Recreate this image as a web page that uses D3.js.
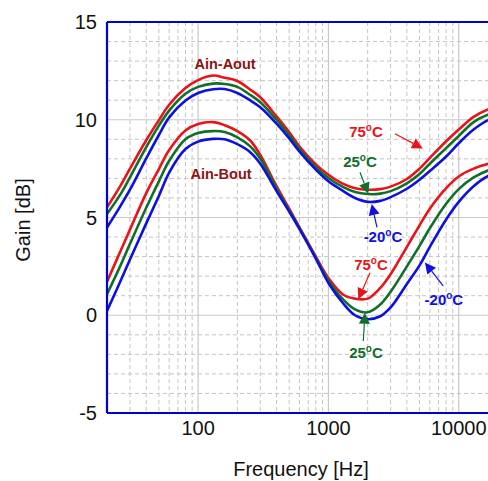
<!DOCTYPE html>
<html>
<head>
<meta charset="utf-8">
<script src="https://cdn.jsdelivr.net/npm/d3@7"></script>
<style>
  html, body { margin: 0; padding: 0; background: #fff; }
  svg { display: block; font-family: Arial, "Liberation Sans", sans-serif; }
</style>
</head>
<body>
<svg id="chart" width="488" height="481"></svg>
<script>
// ---------------- DATA ----------------
const freqs = [20, 25, 30, 40, 50, 60, 80, 100, 130, 160, 200, 250, 300, 400, 500, 600, 800,
               1000, 1300, 1600, 2000, 2500, 3000, 4000, 5000, 6000, 8000, 10000, 13000, 17000, 20000];

// Ain-Aout
const aoutHot  = [5.52, 6.55, 7.50, 8.95, 9.98, 10.77, 11.62, 12.03, 12.26, 12.15, 11.98, 11.55, 11.15, 10.17, 9.36, 8.63, 7.72,
                  7.19, 6.72, 6.50, 6.42, 6.45, 6.58, 6.97, 7.50, 8.05, 8.90, 9.50, 10.15, 10.55, 10.70];
const aoutRoom = [5.18, 6.12, 7.05, 8.60, 9.70, 10.47, 11.33, 11.68, 11.85, 11.83, 11.68, 11.28, 10.90, 10.00, 9.22, 8.50, 7.58,
                  7.02, 6.55, 6.30, 6.20, 6.22, 6.35, 6.75, 7.22, 7.75, 8.55, 9.17, 9.88, 10.28, 10.42];
const aoutCold = [4.49, 5.52, 6.42, 8.02, 9.22, 10.12, 10.98, 11.37, 11.56, 11.57, 11.37, 11.00, 10.64, 9.80, 9.05, 8.37, 7.45,
                  6.85, 6.35, 6.00, 5.80, 5.85, 6.04, 6.47, 6.93, 7.38, 8.12, 8.80, 9.50, 10.00, 10.15];
// Ain-Bout
const boutHot  = [1.72, 3.18, 4.38, 6.25, 7.48, 8.45, 9.45, 9.78, 9.88, 9.72, 9.42, 8.95, 8.20, 6.60, 5.45, 4.50, 3.00,
                  1.90, 1.05, 0.85, 0.85, 1.40, 2.10, 3.50, 4.60, 5.45, 6.50, 7.10, 7.50, 7.75, 7.85];
const boutRoom = [1.08, 2.45, 3.65, 5.50, 6.85, 7.90, 9.00, 9.32, 9.42, 9.37, 9.10, 8.65, 8.00, 6.48, 5.38, 4.45, 2.95,
                  1.77, 0.80, 0.30, 0.15, 0.55, 1.20, 2.50, 3.55, 4.45, 5.70, 6.45, 7.05, 7.42, 7.55];
const boutCold = [0.22, 1.65, 2.85, 4.70, 6.10, 7.30, 8.50, 8.88, 9.02, 9.00, 8.75, 8.35, 7.75, 6.35, 5.30, 4.40, 2.90,
                  1.65, 0.60, 0.00, -0.20, -0.05, 0.40, 1.60, 2.55, 3.50, 4.90, 5.80, 6.60, 7.14, 7.30];

const seriesNames = ["75°C", "25°C", "-20°C"];
const seriesColors = ["#e8141a", "#10702a", "#1010dd"];

const yTicks = [-5, 0, 5, 10, 15];
const xTicks = [100, 1000, 10000];
const xTickLabels = ["100", "1000", "10000"];

// group labels [freq, gain]
const groupLabels = [
  { text: "Ain-Aout", f: 161, g: 12.58 },
  { text: "Ain-Bout", f: 150, g: 6.99 }
];
// temperature annotations: label centre, arrow start, arrow tip (freq, gain)
const annotations = [
  { num: "75",  color: 0, lf: 1942, lg: 9.14,  f1: 3238, g1: 9.28,  f2: 5308, g2: 8.53 },
  { num: "25",  color: 1, lf: 1746, lg: 7.57,  f1: 1746, g1: 7.31,  f2: 2022, g2: 6.21 },
  { num: "-20", color: 2, lf: 2620, lg: 3.76,  f1: 2358, g1: 4.49,  f2: 2147, g2: 5.69 },
  { num: "75",  color: 0, lf: 2120, lg: 2.32,  f1: 2082, g1: 2.17,  f2: 1694, g2: 0.82 },
  { num: "-20", color: 2, lf: 7690, lg: 0.53,  f1: 7592, g1: 1.50,  f2: 5498, g2: 2.70 },
  { num: "25",  color: 1, lf: 1942, lg: -2.19, f1: 1852, g1: -1.32, f2: 1906, g2: 0.13 }
];

// ---------------- CHART ----------------
const svg = d3.select("#chart");
const W = 488, H = 481;
svg.append("rect").attr("width", W).attr("height", H).attr("fill", "#fff");

const pL = 107, pT = 22, pR = 498, pB = 413;
const x = d3.scaleLog().domain([20, 20000]).range([pL, pR]);
const y = d3.scaleLinear().domain([-5, 15]).range([pB, pT]);

const grid = svg.append("g");
const minorX = [];
[10, 100, 1000, 10000].forEach(d => { for (let k = 2; k <= 9; k++) minorX.push(d * k); });
grid.selectAll(".mx").data(minorX.filter(v => v >= 20 && v <= 20000 && !xTicks.includes(v)))
  .join("line")
  .attr("x1", d => x(d)).attr("x2", d => x(d)).attr("y1", pT).attr("y2", pB)
  .attr("stroke", "#c4c4c4").attr("stroke-width", 1).attr("stroke-dasharray", "4,3");
const minorY = d3.range(-5, 16, 1).filter(v => !yTicks.includes(v));
grid.selectAll(".my").data(minorY).join("line")
  .attr("x1", pL).attr("x2", pR).attr("y1", d => y(d)).attr("y2", d => y(d))
  .attr("stroke", "#c4c4c4").attr("stroke-width", 1).attr("stroke-dasharray", "4,3");
grid.selectAll(".Mx").data(xTicks).join("line")
  .attr("x1", d => x(d)).attr("x2", d => x(d)).attr("y1", pT).attr("y2", pB)
  .attr("stroke", "#c8c8c8").attr("stroke-width", 1.2);
grid.selectAll(".My").data(yTicks).join("line")
  .attr("x1", pL).attr("x2", pR).attr("y1", d => y(d)).attr("y2", d => y(d))
  .attr("stroke", "#c8c8c8").attr("stroke-width", 1.2);

svg.append("clipPath").attr("id", "clip").append("rect")
  .attr("x", pL).attr("y", pT).attr("width", pR - pL).attr("height", pB - pT);

const line = d3.line().x(d => x(d[0])).y(d => y(d[1])).curve(d3.curveCatmullRom.alpha(0.5));
const curves = svg.append("g").attr("clip-path", "url(#clip)");
const sets = [[aoutHot, aoutRoom, aoutCold], [boutHot, boutRoom, boutCold]];
sets.forEach(set => {
  set.forEach((vals, i) => {
    curves.append("path")
      .datum(freqs.map((f, j) => [f, vals[j]]))
      .attr("d", line)
      .attr("fill", "none")
      .attr("stroke", seriesColors[i])
      .attr("stroke-width", 2.6)
      .attr("stroke-linejoin", "round");
  });
});

const frame = svg.append("g").attr("stroke", "#0000d0").attr("stroke-width", 2.2);
frame.append("line").attr("x1", pL).attr("x2", pL).attr("y1", pT).attr("y2", pB);
frame.append("line").attr("x1", pL).attr("x2", pR).attr("y1", pT).attr("y2", pT);
frame.append("line").attr("x1", pL).attr("x2", pR).attr("y1", pB).attr("y2", pB);

svg.selectAll(".yt").data(yTicks).join("text")
  .attr("x", 97).attr("y", d => y(d)).attr("dy", "0.35em")
  .attr("text-anchor", "end").attr("font-size", 20).attr("fill", "#111")
  .text(d => d);
svg.selectAll(".xt").data(xTicks).join("text")
  .attr("x", d => x(d)).attr("y", 428).attr("dy", "0.35em")
  .attr("text-anchor", "middle").attr("font-size", 20).attr("fill", "#111")
  .text((d, i) => xTickLabels[i]);
svg.append("text").attr("x", 301).attr("y", 476).attr("text-anchor", "middle")
  .attr("font-size", 20).attr("fill", "#111").text("Frequency [Hz]");
svg.append("text").attr("transform", "translate(30,220) rotate(-90)")
  .attr("text-anchor", "middle").attr("font-size", 20).attr("fill", "#111").text("Gain [dB]");

svg.selectAll(".gl").data(groupLabels).join("text")
  .attr("x", d => x(d.f)).attr("y", d => y(d.g))
  .attr("text-anchor", "middle").attr("font-size", 14.5).attr("font-weight", "bold")
  .attr("fill", "#8a1414").text(d => d.text);

const ann = svg.append("g");
annotations.forEach(a => {
  const col = seriesColors[a.color];
  const t = ann.append("text").attr("x", x(a.lf)).attr("y", y(a.lg))
    .attr("text-anchor", "middle").attr("font-size", 15).attr("font-weight", "bold").attr("fill", col);
  t.append("tspan").text(a.num);
  t.append("tspan").attr("font-size", 10).attr("dy", -6).text("o");
  t.append("tspan").attr("dy", 6).text("C");
  const x1 = x(a.f1), y1 = y(a.g1), x2 = x(a.f2), y2 = y(a.g2);
  const ang = Math.atan2(y2 - y1, x2 - x1);
  const L = 11, Wd = 5.5;
  const bx = x2 - L * Math.cos(ang), by = y2 - L * Math.sin(ang);
  ann.append("line").attr("x1", x1).attr("y1", y1).attr("x2", bx).attr("y2", by)
    .attr("stroke", col).attr("stroke-width", 1.2);
  const px = -Math.sin(ang), py = Math.cos(ang);
  ann.append("path")
    .attr("d", `M${x2},${y2}L${bx + px * Wd},${by + py * Wd}L${bx - px * Wd},${by - py * Wd}Z`)
    .attr("fill", col);
});
</script>
</body>
</html>
